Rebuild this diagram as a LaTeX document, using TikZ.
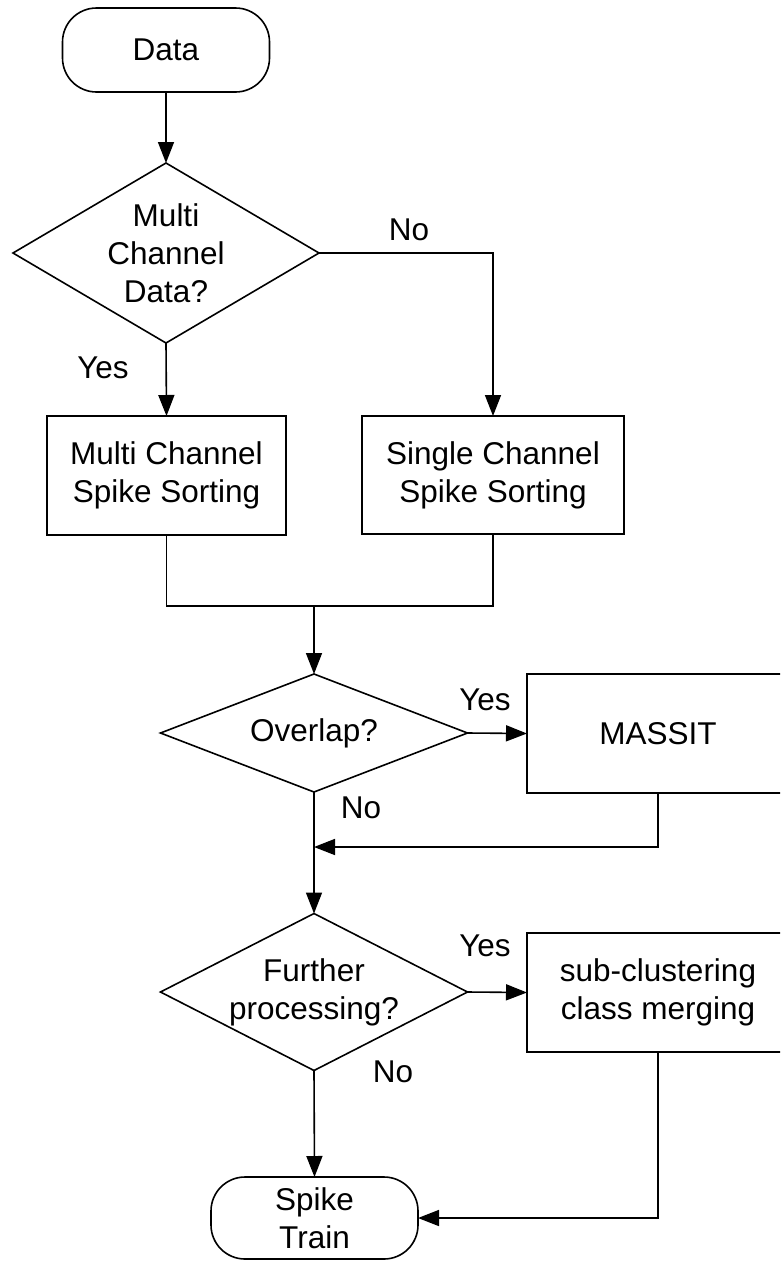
\documentclass[tikz,border=0pt]{standalone}
\usepackage{fontspec}
\setmainfont{Liberation Sans}
\usetikzlibrary{shapes.geometric,arrows.meta,positioning}
\tikzset{
  base/.style={draw=black, line width=1.6pt, align=center, inner sep=0pt, outer sep=0pt},
  term/.style={base, rectangle, rounded corners=34pt},
  procbox/.style={base, rectangle},
  decision/.style={base, diamond},
  conn/.style={line width=1.6pt, draw=black},
  arr/.style={conn, -{Triangle[length=21pt,width=16pt]}},
  lbl/.style={inner sep=0pt, align=center}
}
\begin{document}
\begin{tikzpicture}[x=1pt,y=-1pt,font=\fontsize{31.5}{38}\selectfont]
\fill[white] (0,0) rectangle (780,1261);
\clip (0,0) rectangle (780,1261);
% nodes
\node[term, minimum width=207, minimum height=84] (data) at (166,50) {Data};
\node[decision, minimum width=306, minimum height=180,
      label={[lbl]center:{Multi\\Channel\\Data?}}] (d1) at (166,253) {};
\node[procbox, minimum width=239, minimum height=119] (mc) at (166.5,475.5) {Multi Channel\\Spike Sorting};
\node[procbox, minimum width=262, minimum height=118] (sc) at (493,475) {Single Channel\\Spike Sorting};
\node[decision, minimum width=307, minimum height=118,
      label={[lbl]center:{Overlap?}}] (d2) at (314,733) {};
\node[procbox, minimum width=262, minimum height=119] (massit) at (658,733.5) {MASSIT};
\node[decision, minimum width=307, minimum height=157,
      label={[lbl]center:{Further\\processing?}}] (d3) at (314,992) {};
\node[procbox, minimum width=262, minimum height=119] (sub) at (658,992.5) {sub-clustering\\class merging};
\node[term, minimum width=207, minimum height=82] (spike) at (314.5,1218) {Spike\\Train};
% coordinates
\coordinate (join) at (314,606);
\coordinate (merge) at (314,847);
% connectors
\draw[arr] (data.south) -- (d1.north);
\draw[arr] (d1.east) -| (sc.north);
\draw[arr] (d1.south) -- (mc.north);
\draw[conn] (mc.south) |- (join) -| (sc.south);
\draw[arr] (join) -- (d2.north);
\draw[arr] (d2.east) -- (massit.west);
\draw[arr] (d2.south) -- (d3.north);
\draw[arr] (massit.south) |- (merge);
\draw[arr] (d3.east) -- (sub.west);
\draw[arr] (d3.south) -- (spike.north);
\draw[arr] (sub.south) |- (spike.east);
% labels
\node[lbl] (l1) at (409,230) {No};
\node[lbl] (l2) at (103,368) {Yes};
\node[lbl] (l3) at (485,700) {Yes};
\node[lbl] (l4) at (361,808) {No};
\node[lbl] (l5) at (485,946) {Yes};
\node[lbl] (l6) at (393,1072) {No};
\end{tikzpicture}
\end{document}
